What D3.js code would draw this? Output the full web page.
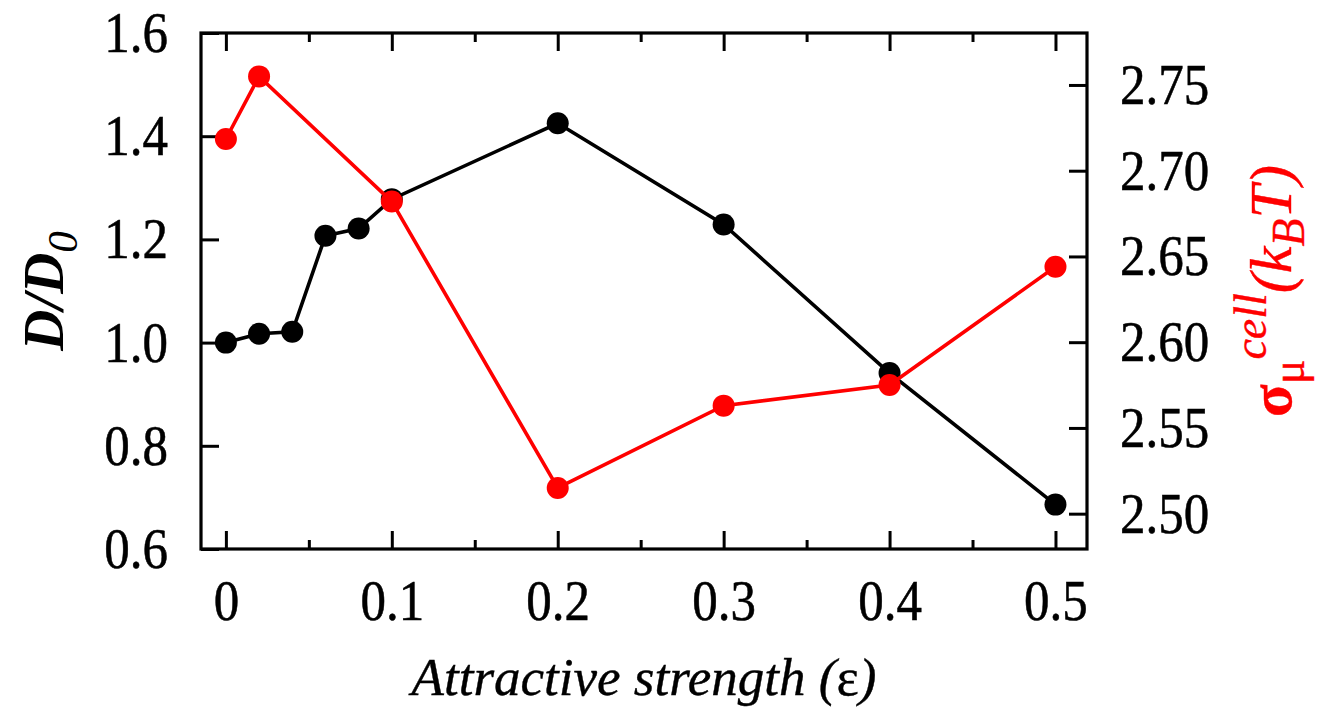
<!DOCTYPE html>
<html>
<head>
<meta charset="utf-8">
<script src="https://cdn.jsdelivr.net/npm/d3@7"></script>
<style>
  body { margin: 0; background: #fff; }
  svg { display: block; }
  text { font-family: "Liberation Serif", "Times New Roman", serif; }
</style>
</head>
<body>
<svg id="chart" width="1318" height="709"></svg>
<script>
// D/D0 series (black, left axis)
const epsD = [0, 0.02, 0.04, 0.06, 0.08, 0.1, 0.2, 0.3, 0.4, 0.5];
const diffusion = [1.000, 1.017, 1.021, 1.207, 1.221, 1.278, 1.425, 1.229, 0.941, 0.686];

// sigma_mu^cell series (red, right axis)
const epsSigma = [0, 0.02, 0.1, 0.2, 0.3, 0.4, 0.5];
const sigmaMu = [2.7185, 2.755, 2.682, 2.515, 2.563, 2.575, 2.644];

// ticks
const xTicks = [0, 0.1, 0.2, 0.3, 0.4, 0.5];
const xMinorTicks = [0.05, 0.15, 0.25, 0.35, 0.45];
const yLeftTicks = [0.6, 0.8, 1.0, 1.2, 1.4, 1.6];
const yRightTicks = [2.50, 2.55, 2.60, 2.65, 2.70, 2.75];

const svg = d3.select("#chart");
const plotLeft = 201, plotRight = 1087, plotTop = 33, plotBottom = 549;

const x = d3.scaleLinear().domain([-0.015, 0.519]).range([plotLeft, plotRight]);
const yL = d3.scaleLinear().domain([0.6, 1.6]).range([plotBottom, plotTop]);
const yR = d3.scaleLinear().domain([2.4794, 2.7803]).range([plotBottom, plotTop]);

const tickFont = 51;
const stretch = 1.1; // glyphs in the original are a bit taller than wide
const major = 18, minor = 9;

function styleAxis(g) {
    g.select(".domain").remove();
    g.selectAll(".tick line").attr("stroke", "#000").attr("stroke-width", 3);
    g.selectAll(".tick text")
        .attr("fill", "#000")
        .attr("stroke", "#000")
        .attr("stroke-width", 0.5)
        .attr("transform", `scale(1, ${stretch})`)
        .style("font-size", tickFont + "px")
        .style("font-family", '"Liberation Serif", "Times New Roman", serif');
}

// bottom axis
svg.append("g")
    .attr("transform", `translate(0, ${plotBottom})`)
    .call(d3.axisBottom(x).tickValues(xTicks).tickSizeInner(-major).tickSizeOuter(0).tickPadding(28)
        .tickFormat(d => d === 0 ? "0" : d3.format(".1f")(d)))
    .call(styleAxis);
svg.append("g")
    .attr("transform", `translate(0, ${plotBottom})`)
    .call(d3.axisBottom(x).tickValues(xMinorTicks).tickSizeInner(-minor).tickSizeOuter(0).tickFormat(""))
    .call(styleAxis);

// top axis (mirrored ticks)
svg.append("g")
    .attr("transform", `translate(0, ${plotTop})`)
    .call(d3.axisTop(x).tickValues(xTicks).tickSizeInner(-major).tickSizeOuter(0).tickFormat(""))
    .call(styleAxis);
svg.append("g")
    .attr("transform", `translate(0, ${plotTop})`)
    .call(d3.axisTop(x).tickValues(xMinorTicks).tickSizeInner(-minor).tickSizeOuter(0).tickFormat(""))
    .call(styleAxis);

// left axis
const gL = svg.append("g")
    .attr("transform", `translate(${plotLeft}, 0)`)
    .call(d3.axisLeft(yL).tickValues(yLeftTicks).tickSizeInner(-major).tickSizeOuter(0).tickPadding(33)
        .tickFormat(d3.format(".1f")))
    .call(styleAxis);
gL.selectAll(".tick text").attr("dy", "0.33em");

// right axis
const gR = svg.append("g")
    .attr("transform", `translate(${plotRight}, 0)`)
    .call(d3.axisRight(yR).tickValues(yRightTicks).tickSizeInner(-major).tickSizeOuter(0).tickPadding(33)
        .tickFormat(d3.format(".2f")))
    .call(styleAxis);
gR.selectAll(".tick text").attr("dy", "0.33em");

// frame
svg.append("rect")
    .attr("x", plotLeft).attr("y", plotTop)
    .attr("width", plotRight - plotLeft).attr("height", plotBottom - plotTop)
    .attr("fill", "none").attr("stroke", "#000").attr("stroke-width", 3.2);

// black series
const lineD = d3.line().x((d, i) => x(epsD[i])).y(d => yL(d));
svg.append("path")
    .datum(diffusion)
    .attr("d", lineD)
    .attr("fill", "none").attr("stroke", "#000").attr("stroke-width", 3.6);
svg.selectAll("circle.d")
    .data(diffusion)
    .enter().append("circle")
    .attr("class", "d")
    .attr("cx", (d, i) => x(epsD[i]))
    .attr("cy", d => yL(d))
    .attr("r", 11)
    .attr("fill", "#000");

// red series
const lineS = d3.line().x((d, i) => x(epsSigma[i])).y(d => yR(d));
svg.append("path")
    .datum(sigmaMu)
    .attr("d", lineS)
    .attr("fill", "none").attr("stroke", "#f00").attr("stroke-width", 3.6);
svg.selectAll("circle.s")
    .data(sigmaMu)
    .enter().append("circle")
    .attr("class", "s")
    .attr("cx", (d, i) => x(epsSigma[i]))
    .attr("cy", d => yR(d))
    .attr("r", 11)
    .attr("fill", "#f00");

// x title
const tX = svg.append("text")
    .attr("x", (plotLeft + plotRight) / 2)
    .attr("y", 695)
    .attr("text-anchor", "middle")
    .attr("stroke", "#000").attr("stroke-width", 0.4)
    .style("font-size", "53px")
    .style("font-style", "italic");
tX.append("tspan").text("Attractive strength (");
tX.append("tspan").style("font-style", "normal").text("ε");
tX.append("tspan").text(")");

// left title D/D0
const tL = svg.append("text")
    .attr("transform", `translate(63, ${(plotTop + plotBottom) / 2}) rotate(-90)`)
    .attr("text-anchor", "middle")
    .style("font-size", "57px")
    .style("font-style", "italic");
tL.append("tspan").style("font-weight", "bold").text("D/D");
tL.append("tspan").attr("dy", 14).style("font-size", "43px").text("0");

// right title sigma_mu^cell(k_B T)
const tR = svg.append("text")
    .attr("transform", `translate(1291, ${(plotTop + plotBottom) / 2}) rotate(-90)`)
    .attr("text-anchor", "middle")
    .attr("fill", "#f00")
    .attr("stroke", "#f00").attr("stroke-width", 0.4)
    .style("font-size", "60px");
tR.append("tspan").style("font-weight", "bold").text("σ");
tR.append("tspan").attr("dy", 13).style("font-size", "46px").text("μ");
tR.append("tspan").attr("dy", -38).style("font-size", "46px").style("font-style", "italic").text("cell");
tR.append("tspan").attr("dy", 25).style("font-style", "italic").text("(k");
tR.append("tspan").attr("dy", 13).style("font-size", "46px").style("font-style", "italic").text("B");
tR.append("tspan").attr("dy", -13).style("font-style", "italic").text("T)");
</script>
</body>
</html>
